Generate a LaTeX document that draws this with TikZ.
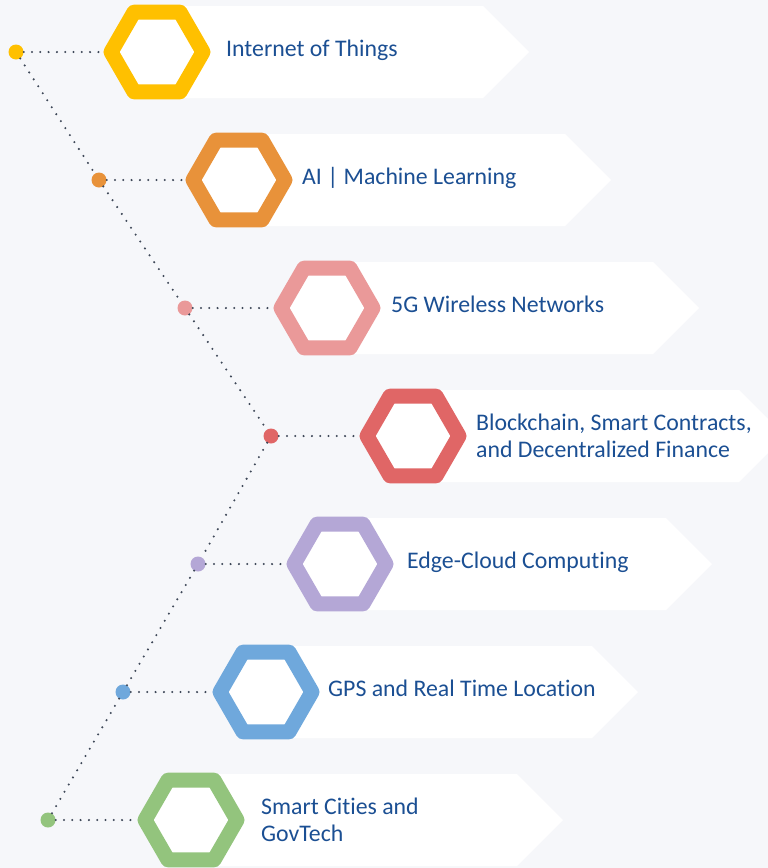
\documentclass[tikz,border=0pt]{standalone}
\usepackage{fontspec}
\setmainfont{Carlito}[Ligatures={NoCommon}]
\usetikzlibrary{shapes.geometric}

\definecolor{bg}{HTML}{F6F7FA}
\definecolor{linkgrey}{HTML}{3E4858}
\definecolor{txtblue}{HTML}{1B4F93}
\definecolor{iot}{HTML}{FFC000}
\definecolor{ai}{HTML}{E8923A}
\definecolor{wireless}{HTML}{EA9999}
\definecolor{chain}{HTML}{E06666}
\definecolor{edge}{HTML}{B4A7D6}
\definecolor{gps}{HTML}{6FA8DC}
\definecolor{city}{HTML}{93C47D}

\tikzset{
	hexa/.style={regular polygon, regular polygon sides=6, minimum size=92pt, inner sep=0pt, line width=15pt, line join=round, fill=white},
	dot/.style={circle, minimum size=15pt, inner sep=0pt},
	link/.style={draw=linkgrey, line width=2.3pt, line cap=round, dash pattern=on 0pt off 8.3pt},
	banner/.style={fill=white},
	lbl/.style={anchor=west, inner sep=0pt, text=txtblue, font=\fontsize{23.8pt}{27.5pt}\selectfont},
	oneline/.style={text height=15.5pt, text depth=6pt},
}

\begin{document}
\begin{tikzpicture}[x=1pt, y=-1pt]
	\useasboundingbox (0,0) rectangle (768,868);
	\fill[bg] (0,0) rectangle (768,868);

	% row centres
	\coordinate (c1) at (157,52);
	\coordinate (c2) at (239,180);
	\coordinate (c3) at (327,308);
	\coordinate (c4) at (413,436);
	\coordinate (c5) at (340,564);
	\coordinate (c6) at (266,692);
	\coordinate (c7) at (191,820);

	% white arrow banners
	\foreach \i in {1,...,7}
		\fill[banner] (c\i) ++(0,-46) -- ++(326,0) -- ++(46,46) -- ++(-46,46) -- ++(-326,0) -- cycle;

	% hexagons
	\node[hexa, draw=iot] (h1) at (c1) {};
	\node[hexa, draw=ai] (h2) at (c2) {};
	\node[hexa, draw=wireless] (h3) at (c3) {};
	\node[hexa, draw=chain] (h4) at (c4) {};
	\node[hexa, draw=edge] (h5) at (c5) {};
	\node[hexa, draw=gps] (h6) at (c6) {};
	\node[hexa, draw=city] (h7) at (c7) {};

	% dots
	\node[dot, fill=iot] (d1) at (16,52) {};
	\node[dot, fill=ai] (d2) at (99,180) {};
	\node[dot, fill=wireless] (d3) at (185,308) {};
	\node[dot, fill=chain] (d4) at (271,436) {};
	\node[dot, fill=edge] (d5) at (198,564) {};
	\node[dot, fill=gps] (d6) at (123,692) {};
	\node[dot, fill=city] (d7) at (48,820) {};

	% labels
	\node[lbl, oneline] (t1) at (226,52) {Internet of Things};
	\node[lbl, oneline] (t2) at (302,180) {AI | Machine Learning};
	\node[lbl, oneline] (t3) at (391,308) {5G Wireless Networks};
	\node[lbl, align=left] (t4) at (476,436) {Blockchain, Smart Contracts,\\and Decentralized Finance};
	\node[lbl, oneline] (t5) at (407,564) {Edge-Cloud Computing};
	\node[lbl, oneline] (t6) at (328,692) {GPS and Real Time Location};
	\node[lbl, align=left] (t7) at (261,820) {Smart Cities and\\GovTech};

	% dotted connectors
	\draw[link] (d1) -- (d2) -- (d3) -- (d4) -- (d5) -- (d6) -- (d7);
	\draw[link] (d1) -- (h1);
	\draw[link] (d2) -- (h2);
	\draw[link] (d3) -- (h3);
	\draw[link] (d4) -- (h4);
	\draw[link] (d5) -- (h5);
	\draw[link] (d6) -- (h6);
	\draw[link] (d7) -- (h7);
\end{tikzpicture}
\end{document}
